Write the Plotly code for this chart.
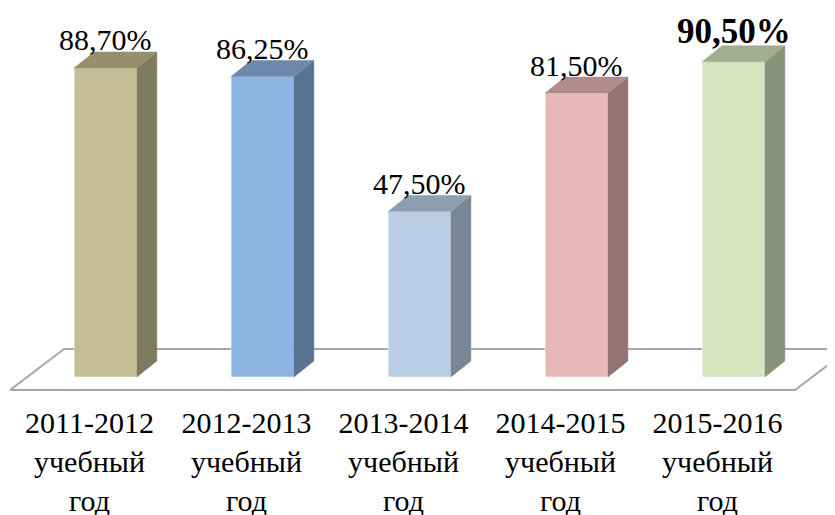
import plotly.graph_objects as go

# ---- data ----
categories = ["2011-2012<br>учебный<br>год", "2012-2013<br>учебный<br>год",
              "2013-2014<br>учебный<br>год", "2014-2015<br>учебный<br>год",
              "2015-2016<br>учебный<br>год"]
values = [88.70, 86.25, 47.50, 81.50, 90.50]
label_bold = [False, False, False, False, True]

# ---- styles ----
front_colors = ["#C4BD97", "#8DB3E2", "#B9CDE5", "#E6B9B8", "#D7E4BD"]
side_colors = ["#7F7B5E", "#5B7391", "#788796", "#937475", "#8A937A"]
top_colors = ["#958F70", "#6E88AB", "#8F9FB2", "#AF8D8C", "#A3AE8F"]

FONT = "Liberation Serif"
W = 0.40      # bar front width (category units)
DX = 0.127    # depth offset, x
DY = 4.59     # depth offset, y (value units)
TICK_SHIFT = -0.102  # category labels sit slightly left of the bar fronts

fig = go.Figure()

# floor
fx0, fx1, fdx = -0.608, 4.392, 0.344
fy0, fy1 = -3.73, 8.04
fig.add_trace(go.Scatter(
    x=[fx0, fx1, fx1 + fdx, fx0 + fdx, fx0],
    y=[fy0, fy0, fy1, fy1, fy0],
    mode="lines", fill="toself", fillcolor="white",
    line=dict(color="#A6A6A6", width=2), hoverinfo="skip", showlegend=False))

xs = list(range(len(values)))

for i, v in enumerate(values):
    l, r = i - W / 2, i + W / 2
    # front face
    fig.add_trace(go.Scatter(
        x=[l, r, r, l, l], y=[0, 0, v, v, 0],
        mode="lines", fill="toself", fillcolor=front_colors[i],
        line=dict(color="rgba(255,255,255,0.5)", width=1), hoverinfo="skip", showlegend=False))
    # side face
    fig.add_trace(go.Scatter(
        x=[r, r + DX, r + DX, r, r], y=[0, DY, v + DY, v, 0],
        mode="lines", fill="toself", fillcolor=side_colors[i],
        line=dict(color=side_colors[i], width=0.5), hoverinfo="skip", showlegend=False))
    # top face
    fig.add_trace(go.Scatter(
        x=[l, l + DX, r + DX, r, l], y=[v, v + DY, v + DY, v, v],
        mode="lines", fill="toself", fillcolor=top_colors[i],
        line=dict(color=top_colors[i], width=0.5), hoverinfo="skip", showlegend=False))
    txt = f"{v:.2f}".replace(".", ",") + "%"
    if label_bold[i]:
        txt = "<b>" + txt + "</b>"
    fig.add_annotation(x=i, y=v + DY, text=txt, showarrow=False, yanchor="middle",
                       yshift=14 if label_bold[i] else 12,
                       font=dict(family=FONT, size=35 if label_bold[i] else 30, color="black"))

fig.update_layout(
    width=835, height=515,
    margin=dict(l=0, r=0, t=0, b=121),
    paper_bgcolor="white", plot_bgcolor="white",
    font=dict(family=FONT),
    xaxis=dict(range=[-0.621, 4.697], tickvals=[x + TICK_SHIFT for x in xs], ticktext=categories,
               showgrid=False, zeroline=False, showline=False, ticks="",
               tickfont=dict(family=FONT, size=30, color="black"), fixedrange=True),
    yaxis=dict(range=[-7.18, 105.91], visible=False, showgrid=False, zeroline=False,
               fixedrange=True),
)

fig.write_html("out.html")
